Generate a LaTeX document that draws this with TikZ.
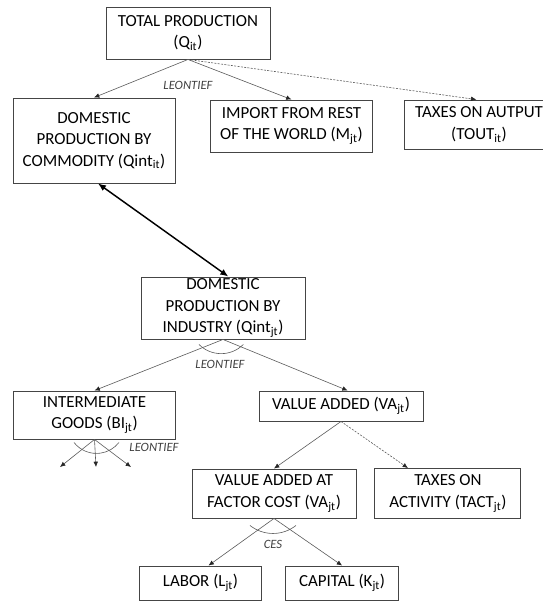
\documentclass[tikz,border=0pt]{standalone}
\usepackage{fontspec}
\setmainfont{Carlito}
\usetikzlibrary{positioning,arrows.meta}
\definecolor{linegray}{HTML}{5A5A5A}
\definecolor{boxgray}{HTML}{454545}

\begin{document}
\begin{tikzpicture}[
		x=0.75pt, y=0.75pt,
		inner sep=1pt,
		align=center,
		font=\fontsize{12.7}{16.2}\selectfont,
		>={Latex[length=4pt,width=3.5pt,color=black!85]},
		box/.style={draw=boxgray, line width=0.7pt, text=black},
		link/.style={->, draw=linegray, line width=0.45pt},
		taxlink/.style={link, dash pattern=on 1.5pt off 1pt},
		funclabel/.style={font=\fontsize{9.5}{11}\selectfont\itshape, text=black!75}
	]
	
	\useasboundingbox (0,0) rectangle (542,-602);
	
	\node [box,minimum width=123pt,minimum height=39pt] (total) at (188,-33) {TOTAL PRODUCTION\\(Q\textsubscript{it})};
	\node [box,minimum width=121.5pt,minimum height=63.75pt] (commodity) at (94,-140.5) {DOMESTIC\\PRODUCTION BY\\COMMODITY (Qint\textsubscript{it})};
	\node [box,minimum width=122pt,minimum height=39pt] (import) at (291.5,-126) {IMPORT FROM REST\\OF THE WORLD (M\textsubscript{jt})};
	\node [box,minimum width=112pt,minimum height=36.75pt] (tout) at (479,-124.5) {TAXES ON AUTPUT\\(TOUT\textsubscript{it})};
	\node [box,minimum width=123pt,minimum height=46.5pt] (industry) at (223,-308) {DOMESTIC\\PRODUCTION BY\\INDUSTRY (Qint\textsubscript{jt})};
	\node [box,minimum width=122pt,minimum height=36pt] (intermediate) at (94.5,-415) {INTERMEDIATE\\GOODS (BI\textsubscript{jt})};
	\node [box,minimum width=123pt,minimum height=22.5pt] (valueadded) at (341,-406) {VALUE ADDED (VA\textsubscript{jt})};
	\node [box,minimum width=123pt,minimum height=36.75pt] (factorcost) at (274,-493.5) {VALUE ADDED AT\\FACTOR COST (VA\textsubscript{jt})};
	\node [box,minimum width=109.5pt,minimum height=37.5pt,right=13.5pt of factorcost] (tact) {TAXES ON\\ACTIVITY (TACT\textsubscript{jt})};
	\node [box,minimum width=92pt,minimum height=25.5pt] (labor) at (200.5,-583) {LABOR (L\textsubscript{jt})};
	\node [box,minimum width=85pt,minimum height=25.5pt,right=17pt of labor] (capital) {CAPITAL (K\textsubscript{jt})};
	
	\node [funclabel] (leontiefq) at (188,-85) {LEONTIEF};
	\node [funclabel] (leontiefind) at (220,-364) {LEONTIEF};
	\node [funclabel] (leontiefbi) at (154,-447) {LEONTIEF};
	\node [funclabel] (ces) at (273,-544) {CES};
	
	\coordinate (bi1) at (60,-467);
	\coordinate (bi2) at (96,-467);
	\coordinate (bi3) at (131,-467);
	
	\draw [link] (total.south) -- (commodity.north);
	\draw [link] (total.south) -- (import.north);
	\draw [taxlink] (total.south) -- ([xshift=-2pt]tout.north);
	\draw [<->, line width=1.1pt, >={Latex[length=6pt,width=5pt]}] ([xshift=3pt]commodity.south) -- ([xshift=4pt]industry.north);
	\draw [link] (industry.south) -- (intermediate.north);
	\draw [link] (industry.south) -- ([xshift=5pt]valueadded.north);
	\draw [link] (intermediate.south) -- (bi1);
	\draw [link] (intermediate.south) -- (bi2);
	\draw [link] (intermediate.south) -- (bi3);
	\draw [link] (valueadded.south) -- (factorcost.north);
	\draw [taxlink] (valueadded.south) -- ([xshift=-30pt]tact.north);
	\draw [link] (factorcost.south) -- ([xshift=6pt]labor.north);
	\draw [link] (factorcost.south) -- (capital.north);
	
	% substitution arcs
	\draw [linegray, line width=0.45pt] ([shift={(-24,-5)}]industry.south) arc [start angle=225, end angle=315, radius=23.5pt];
	\draw [linegray, line width=0.45pt] ([shift={(-20.5,-3)}]intermediate.south) arc [start angle=218, end angle=322, radius=21.4pt];
	\draw [linegray, line width=0.45pt] ([shift={(-24,-7)}]factorcost.south) arc [start angle=231.6, end angle=308.4, radius=27.75pt];
\end{tikzpicture}
\end{document}
